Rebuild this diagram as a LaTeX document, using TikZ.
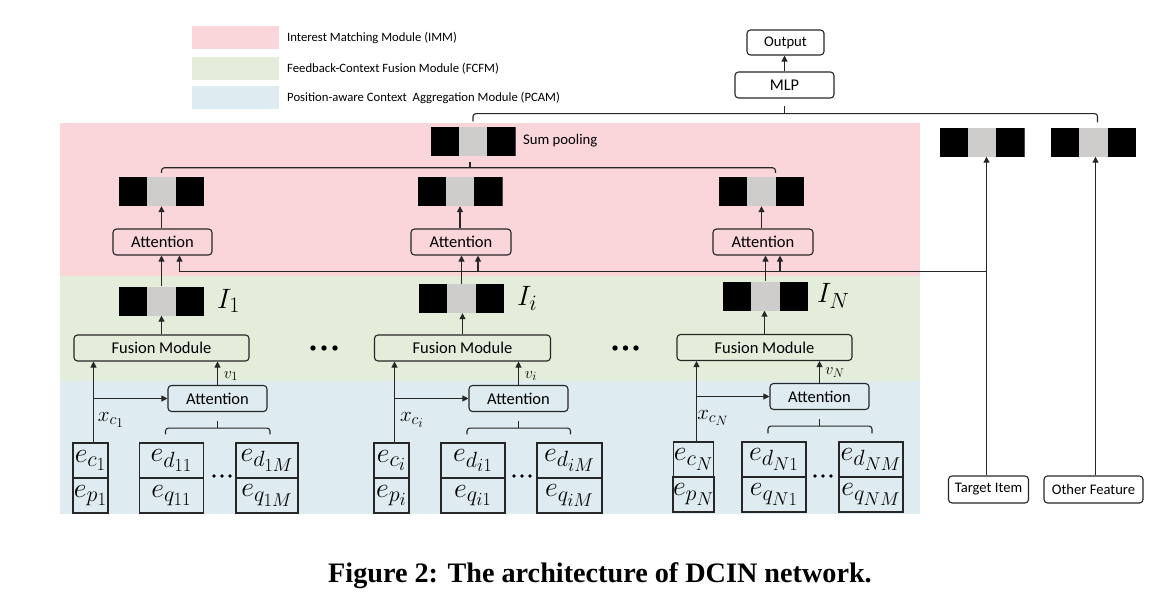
\RequirePackage{fix-cm}
\documentclass[tikz,border=0pt]{standalone}
\usepackage[no-math]{fontspec}
\setmainfont{Carlito}
\newfontfamily\capfont{Liberation Serif}
\usetikzlibrary{arrows.meta,calc}
\DeclareMathSizes{28}{28}{22}{18.5}
\DeclareMathSizes{21}{21}{16}{13.5}
\DeclareMathSizes{16}{16}{12.5}{10.5}
\definecolor{pinkb}{HTML}{FAD6DB}
\definecolor{greenb}{HTML}{E3EDDA}
\definecolor{blueb}{HTML}{DEEBF0}
\definecolor{vgray}{HTML}{CFCDCB}
\definecolor{ln}{HTML}{262626}
\begin{document}
\begin{tikzpicture}[x=1pt,y=-1pt,
  conn/.style={line width=1.1pt, draw=ln},
  arr/.style={conn, -{Triangle[length=6pt,width=6pt]}},
  rbox/.style={draw=ln, line width=1.1pt, rounded corners=3.5pt, inner sep=0, minimum height=26pt, font=\fontsize{16.5}{18}\selectfont},
  cell/.style={draw=ln, line width=1.1pt, inner sep=0, minimum height=35pt, font=\fontsize{28}{30}\selectfont},
  vecb/.style={inner sep=0, minimum width=85pt, minimum height=29pt, fill=vgray,
    path picture={\fill[black] (path picture bounding box.south west) rectangle ([xshift=28.3pt]path picture bounding box.north west);
                  \fill[black] ([xshift=-28.3pt]path picture bounding box.south east) rectangle (path picture bounding box.north east);}},
  lbl/.style={inner sep=0, font=\fontsize{21}{23}\selectfont},
  vlbl/.style={inner sep=0, font=\fontsize{16}{18}\selectfont},
  ilbl/.style={inner sep=0, anchor=west, font=\fontsize{28}{30}\selectfont},
  legtxt/.style={inner sep=0, anchor=west, font=\fontsize{12.7}{14}\selectfont},
  bigdot/.style={fill=black},
]
\path[use as bounding box] (0,0) rectangle (1151,605);

% bands
\fill[pinkb] (60,123) rectangle (920,276);
\fill[greenb] (60,276) rectangle (920,381);
\fill[blueb] (60,381) rectangle (920,514);

% legend
\fill[pinkb] (192,26) rectangle (279,49);
\fill[greenb] (192,57) rectangle (279,80);
\fill[blueb] (192,86) rectangle (279,109);
\node[legtxt] (l1) at (287,37.5) {Interest Matching Module (IMM)};
\node[legtxt] (l2) at (287,68.5) {Feedback-Context Fusion Module (FCFM)};
\node[legtxt] (l3) at (287,97.5) {Position-aware Context\ \ Aggregation Module (PCAM)};

% top
\node[rbox, minimum width=77pt, minimum height=25pt, font=\fontsize{14.7}{16}\selectfont] (out) at (785.5,42.5) {Output};
\node[rbox, minimum width=99pt, font=\fontsize{16.4}{18}\selectfont] (mlp) at (784.5,85) {MLP};
\node[vecb] (sum) at (473,141) {};
\node[inner sep=0, anchor=west, font=\fontsize{14.7}{16}\selectfont] (suml) at (523,141) {Sum pooling};
\node[vecb] (tv) at (982,142) {};
\node[vecb] (ov) at (1093.5,142) {};
\node[rbox, minimum width=80pt, minimum height=27pt, font=\fontsize{14.6}{16}\selectfont] (tgt) at (988.5,489.5) {Target Item};
\node[rbox, minimum width=99pt, minimum height=27pt, font=\fontsize{14.6}{16}\selectfont] (oth) at (1093.5,489.5) {Other Feature};

% column 1
\node[vecb] (o1) at (161.5,191.5) {};
\node[rbox, minimum width=99pt] (ai1) at (162.5,242) {Attention};
\node[vecb] (I1) at (161.5,301) {};
\node[ilbl] (lI1) at (217,301) {$I_1$};
\node[rbox, minimum width=175pt] (f1) at (161.5,348) {Fusion Module};
\node[rbox, minimum width=99pt] (ap1) at (217.5,398.5) {Attention};
\node[cell, minimum width=35pt] (ec1) at (90.5,460.5) {$e_{c_1}$};
\node[cell, minimum width=35pt] (ep1) at (90.5,495.5) {$e_{p_1}$};
\node[cell, minimum width=64pt] (ed11) at (171.5,460.5) {$e_{d_{11}}$};
\node[cell, minimum width=64pt] (eq11) at (171.5,495.5) {$e_{q_{11}}$};
\node[cell, minimum width=62pt] (ed1M) at (267,460.5) {$e_{d_{1M}}$};
\node[cell, minimum width=62pt] (eq1M) at (267,495.5) {$e_{q_{1M}}$};
\node[lbl] (x1) at (111,420) {$x_{c_1}$};
\node[vlbl] (v1) at (231,376) {$v_1$};

% column 2
\node[vecb] (o2) at (460,191.5) {};
\node[rbox, minimum width=100pt] (ai2) at (461,242) {Attention};
\node[vecb] (I2) at (461.5,298.5) {};
\node[ilbl] (lI2) at (517,298.5) {$I_i$};
\node[rbox, minimum width=176pt] (f2) at (462.5,348) {Fusion Module};
\node[rbox, minimum width=99pt] (ap2) at (518.5,398.5) {Attention};
\node[cell, minimum width=35pt] (ec2) at (391.5,460.5) {$e_{c_i}$};
\node[cell, minimum width=35pt] (ep2) at (391.5,495.5) {$e_{p_i}$};
\node[cell, minimum width=64pt] (ed21) at (473,460.5) {$e_{d_{i1}}$};
\node[cell, minimum width=64pt] (eq21) at (473,495.5) {$e_{q_{i1}}$};
\node[cell, minimum width=65pt] (ed2M) at (569.5,460.5) {$e_{d_{iM}}$};
\node[cell, minimum width=65pt] (eq2M) at (569.5,495.5) {$e_{q_{iM}}$};
\node[lbl] (x2) at (412,420) {$x_{c_i}$};
\node[vlbl] (v2) at (531,376) {$v_i$};

% column 3
\node[vecb] (o3) at (761.5,191.5) {};
\node[rbox, minimum width=100pt] (ai3) at (763,242) {Attention};
\node[vecb] (I3) at (765.5,296) {};
\node[ilbl] (lI3) at (817,296) {$I_N$};
\node[rbox, minimum width=175pt] (f3) at (764.5,347.5) {Fusion Module};
\node[rbox, minimum width=99pt] (ap3) at (819.5,396.5) {Attention};
\node[cell, minimum width=35pt] (ec3) at (693.5,459.5) {$e_{c_N}$};
\node[cell, minimum width=35pt] (ep3) at (693.5,494.5) {$e_{p_N}$};
\node[cell, minimum width=64pt] (ed31) at (774,459.5) {$e_{d_{N1}}$};
\node[cell, minimum width=64pt] (eq31) at (774,494.5) {$e_{q_{N1}}$};
\node[cell, minimum width=64pt] (ed3M) at (871,459.5) {$e_{d_{NM}}$};
\node[cell, minimum width=64pt] (eq3M) at (871,494.5) {$e_{q_{NM}}$};
\node[lbl] (x3) at (713,418) {$x_{c_N}$};
\node[vlbl] (v3) at (835,373) {$v_N$};

% dots
\foreach \x in {313,324,335,615,625.5,636} \fill[bigdot] (\x,348) circle (2.7pt);
\foreach \x in {214,222,230,514,522,530,815,823,831} \fill[bigdot] (\x,476) circle (1.9pt);

% MLP / output
\draw[arr] (mlp.north) -- (mlp.north |- out.south);
\coordinate (mb) at ([yshift=-15pt]mlp.south);
\draw[conn, rounded corners=3pt] ([yshift=5pt]sum.north) |- (mb) -| ([xshift=4pt,yshift=5pt]ov.north);
\draw[conn] (mb) -- ([yshift=-7pt]mlp.south);

% pooling bracket
\coordinate (pb) at ([xshift=-3pt,yshift=-12pt]sum.south);
\draw[conn, rounded corners=3pt] ([yshift=4pt]o1.north) |- (pb) -| ([xshift=14pt,yshift=4pt]o3.north);
\draw[conn] (pb) -- ([xshift=-3pt,yshift=-6pt]sum.south);

% target / other
\coordinate (ta) at ([xshift=-2pt]tgt.north);
\coordinate (oa) at ([xshift=2pt]oth.north);
\draw[arr] (ta) -- (ta |- tv.south);
\draw[arr] (oa) -- (oa |- ov.south);
\coordinate (tl) at (986.5,271.5);
\coordinate (a1) at ([xshift=17pt]ai1.south);
\coordinate (a2) at ([xshift=17pt]ai2.south);
\coordinate (a3) at ([xshift=17pt]ai3.south);
\draw[conn] (a1 |- tl) -- (tl);
\draw[arr] (a1 |- tl) -- (a1);
\draw[arr] (a2 |- tl) -- (a2);
\draw[arr] (a3 |- tl) -- (a3);

% column connectors
\foreach \c in {1,2,3}{
  \draw[arr] (o\c.south |- ai\c.north) -- (o\c.south);
  \draw[arr] (I\c.north) -- (I\c.north |- ai\c.south);
  \draw[arr] (f\c.north) -- (f\c.north |- I\c.south);
  \draw[arr] (ap\c.north) -- (ap\c.north |- f\c.south);
}
\coordinate (xc1) at ([xshift=3pt]ec1.north);
\coordinate (xc2) at ([xshift=3pt]ec2.north);
\coordinate (xc3) at ([xshift=3pt]ec3.north);
\foreach \c in {1,2,3}{
  \draw[arr] (xc\c) -- (xc\c |- f\c.south);
  \draw[arr] (xc\c |- ap\c.west) -- (ap\c.west);
}
% e brackets
\coordinate (b1) at ([yshift=-16pt]ap1.south);
\coordinate (b2) at ([yshift=-16pt]ap2.south);
\coordinate (b3) at ([yshift=-16pt]ap3.south);
\draw[conn, rounded corners=3pt] ([xshift=-6pt,yshift=8pt]ed11.north) |- (b1) -| ([xshift=3pt,yshift=8pt]ed1M.north);
\draw[conn, rounded corners=3pt] ([xshift=-6pt,yshift=8pt]ed21.north) |- (b2) -| ([xshift=1pt,yshift=8pt]ed2M.north);
\draw[conn, rounded corners=3pt] ([xshift=-6pt,yshift=8pt]ed31.north) |- (b3) -| ([xshift=1pt,yshift=8pt]ed3M.north);
\foreach \c in {1,2,3} \draw[conn] (b\c) -- ([yshift=-9pt]ap\c.south);

% caption
\node[anchor=base, inner sep=0, font=\capfont\bfseries\fontsize{28.2}{30}\selectfont] (cap) at (600,582) {Figure 2: The architecture of DCIN network.};
\end{tikzpicture}
\end{document}
